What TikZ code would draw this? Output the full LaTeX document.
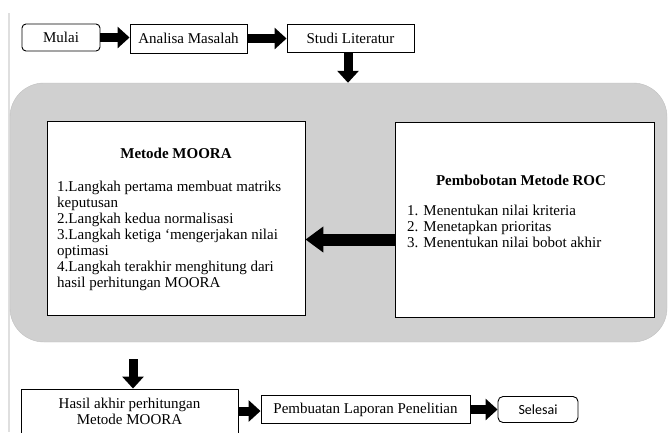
\documentclass[tikz,border=0pt]{standalone}
\usepackage{fontspec}
\setmainfont{Liberation Serif}
\newfontfamily\endfont{Carlito}
\usepackage{tikz}
\usetikzlibrary{arrows.meta}

\tikzset{
  txt/.style={font=\fontsize{15}{16}\selectfont},
  stepbox/.style={txt, draw=black, line width=0.9pt, fill=white, inner sep=0pt},
  roundbox/.style={stepbox, rounded corners=4pt},
  blockarrow/.style={line width=9pt, -{Triangle[length=12pt,width=21pt]}},
  bigarrow/.style={line width=12pt, -{Triangle[length=18pt,width=25pt]}}
}

\begin{document}
\begin{tikzpicture}[x=1pt,y=-1pt]
  \useasboundingbox (0,0) rectangle (668,432);
  \clip (0,0) rectangle (668,432);
  \draw[line width=1.5pt, gray!25] (9,13) -- (9,432); % page margin

  % top row
  \node[roundbox, minimum width=78pt, minimum height=27pt] (mulai) at (61,37.5) {Mulai};
  \node[stepbox, minimum width=117pt, minimum height=29pt] (analisa) at (188.5,38.5) {Analisa Masalah};
  \node[stepbox, minimum width=127pt, minimum height=28pt] (studi) at (350.5,38) {Studi Literatur};

  \draw[blockarrow] (mulai.east) -- (mulai.east -| analisa.west);
  \draw[blockarrow] (analisa.east) -- (analisa.east -| studi.west);

  % grey panel with the two methods
  \node[draw=gray!50, fill=gray!37, rounded corners=34pt, minimum width=657pt, minimum height=259pt] (panel) at (338.5,212.5) {};
  \draw[blockarrow] ([xshift=-2.5pt]studi.south) -- ([xshift=-2.5pt]studi.south |- panel.north);

  \node[stepbox, minimum width=258pt, minimum height=194pt] (moora) at (176,218) {};
  \node[txt, font=\bfseries\fontsize{15}{16}\selectfont] (mooratitle) at (176,153) {Metode MOORA};
  \node[txt, anchor=north west, align=left, inner sep=0pt] (moorasteps) at (57,180.5) {%
    1.Langkah pertama membuat matriks\\
    keputusan\\
    2.Langkah kedua normalisasi\\
    3.Langkah ketiga `mengerjakan nilai\\
    optimasi\\
    4.Langkah terakhir menghitung dari\\
    hasil perhitungan MOORA};

  \node[stepbox, minimum width=259pt, minimum height=195pt] (roc) at (524.5,219.5) {};
  \node[txt, font=\bfseries\fontsize{15}{16}\selectfont] (roctitle) at (521,180) {Pembobotan Metode ROC};
  \node[txt, anchor=north west, align=left, inner sep=0pt] (rocsteps) at (407,204.5) {%
    1. Menentukan nilai kriteria\\
    2. Menetapkan prioritas\\
    3. Menentukan nilai bobot akhir};

  \coordinate (rocout) at ([yshift=-20pt]roc.west);
  \draw[bigarrow] (rocout) -- (rocout -| moora.east);

  % bottom row
  \node[stepbox, minimum width=217pt, minimum height=44pt, align=center] (hasil) at (129.5,411) {Hasil akhir perhitungan\\Metode MOORA};
  \node[stepbox, minimum width=209pt, minimum height=28pt] (laporan) at (365.5,409.5) {Pembuatan Laporan Penelitian};
  \node[roundbox, rounded corners=5pt, minimum width=80pt, minimum height=26pt, font=\endfont\fontsize{14}{16}\selectfont] (selesai) at (538,409.5) {Selesai};

  \coordinate (panelout) at (133,359);
  \draw[blockarrow] (panelout) -- (panelout |- hasil.north);
  \draw[blockarrow] (hasil.east) -- (hasil.east -| laporan.west);
  \draw[blockarrow] (laporan.east) -- (selesai.west);
\end{tikzpicture}
\end{document}
